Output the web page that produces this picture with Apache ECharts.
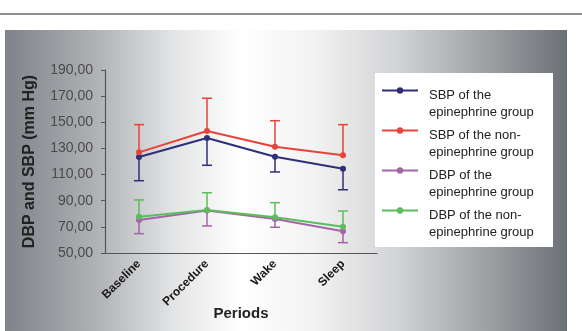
<!DOCTYPE html>
<html><head><meta charset="utf-8">
<script src="https://cdn.jsdelivr.net/npm/echarts@6/dist/echarts.min.js"></script>
<style>html,body{margin:0;padding:0;background:#fff}#c{width:582px;height:331px}</style>
</head><body><div id="c"></div>
<script>
const categories = ['Baseline', 'Procedure', 'Wake', 'Sleep'];
const sbpEpi = [123.5, 138.0, 123.7, 114.5];
const sbpEpiLow = [105.3, 117.1, 112.0, 98.4];
const sbpNon = [127.0, 143.3, 131.3, 124.7];
const sbpNonHigh = [148.2, 168.4, 151.2, 148.2];
const dbpEpi = [75.2, 82.6, 76.0, 66.6];
const dbpEpiLow = [64.8, 70.7, 69.7, 57.9];
const dbpNon = [77.8, 82.9, 77.3, 70.1];
const dbpNonHigh = [90.6, 96.1, 88.5, 82.1];
const yTicks = { min: 50, max: 190, interval: 20 };
const names = ['SBP of the\nepinephrine group', 'SBP of the non-\nepinephrine group', 'DBP of the\nepinephrine group', 'DBP of the non-\nepinephrine group'];
const colors = ['#2f2f78', '#e8433b', '#a465a8', '#5bbd5b'];

function errSeries(name, color, base, ends) {
  return {
    type: 'custom', name: name + ' error', z: 3,
    data: categories.map((c, i) => [i, base[i], ends[i]]),
    renderItem: function (params, api) {
      const p0 = api.coord([api.value(0), api.value(1)]);
      const p1 = api.coord([api.value(0), api.value(2)]);
      const hw = 5;
      return { type: 'group', children: [
        { type: 'line', shape: { x1: p0[0], y1: p0[1], x2: p1[0], y2: p1[1] }, style: { stroke: color, lineWidth: 1.5 } },
        { type: 'line', shape: { x1: p1[0] - hw, y1: p1[1], x2: p1[0] + hw, y2: p1[1] }, style: { stroke: color, lineWidth: 1.5 } }
      ]};
    },
    encode: { x: 0, y: [1, 2] }
  };
}
function lineSeries(name, color, data) {
  return { type: 'line', name: name, data: data, color: color, symbol: 'circle', symbolSize: 6,
    lineStyle: { width: 2, color: color }, itemStyle: { color: color }, z: 4 };
}

const chart = echarts.init(document.getElementById('c'), null, { renderer: 'canvas' });
chart.setOption({
  animation: false,
  graphic: [
    { type: 'line', shape: { x1: 0, y1: 14, x2: 582, y2: 14 }, style: { stroke: '#6a6a6a', lineWidth: 1.5 }, z: -10 },
    { type: 'rect', shape: { x: 5, y: 30, width: 562, height: 301 }, z: -10,
      style: { fill: new echarts.graphic.LinearGradient(0, 0, 1, 0, [
        { offset: 0, color: '#7f8288' }, { offset: 0.17, color: '#b2b4b7' },
        { offset: 0.3, color: '#e3e4e5' }, { offset: 0.42, color: '#ffffff' },
        { offset: 0.55, color: '#f2f2f2' }, { offset: 0.7, color: '#d2d3d5' },
        { offset: 0.85, color: '#a0a2a6' }, { offset: 1, color: '#6d7075' }]) } },
    { type: 'rect', shape: { x: 375, y: 73, width: 178, height: 174 }, z: -5, style: { fill: '#ffffff' } }
  ],
  grid: { left: 105, right: 205, top: 70, bottom: 78, outerBoundsMode: 'none' },
  legend: {
    orient: 'vertical', left: 381, top: 67, padding: 0, itemGap: -12,
    itemWidth: 36, itemHeight: 8,
    data: names,
    formatter: function (name) {
      return '{s| }\n' + name.split('\n').map(t => '{a|' + t + '}').join('\n');
    },
    textStyle: { fontFamily: 'Liberation Sans', fontSize: 13, color: '#222',
      rich: {
        s: { fontSize: 13, lineHeight: 27, fontFamily: 'Liberation Sans' },
        a: { fontSize: 13, lineHeight: 17, color: '#222', fontFamily: 'Liberation Sans', padding: [0, 0, 0, 6] }
      } }
  },
  xAxis: {
    type: 'category', data: categories, boundaryGap: true,
    axisLine: { lineStyle: { color: '#555', width: 1.2 } },
    axisTick: { show: false },
    axisLabel: { rotate: 45, margin: 9, color: '#1a1a1a', fontWeight: 'bold', fontSize: 12, fontFamily: 'Liberation Sans' },
    name: 'Periods', nameLocation: 'middle', nameGap: 53, nameMoveOverlap: false,
    nameTextStyle: { fontWeight: 'bold', fontSize: 15, color: '#222', fontFamily: 'Liberation Sans' }
  },
  yAxis: {
    type: 'value', min: yTicks.min, max: yTicks.max, interval: yTicks.interval,
    axisLine: { show: true, lineStyle: { color: '#555', width: 1.2 } },
    axisTick: { show: true, length: 4, lineStyle: { color: '#555' } },
    splitLine: { show: false },
    axisLabel: { margin: 12, color: '#4a4a4a', fontSize: 14, fontFamily: 'Liberation Sans',
      formatter: v => v.toFixed(2).replace('.', ',') },
    name: 'DBP and SBP (mm Hg)', nameLocation: 'middle', nameGap: 67, nameMoveOverlap: false,
    nameTextStyle: { fontWeight: 'bold', fontSize: 16, color: '#222', fontFamily: 'Liberation Sans' }
  },
  series: [
    errSeries(names[0], colors[0], sbpEpi, sbpEpiLow),
    errSeries(names[1], colors[1], sbpNon, sbpNonHigh),
    errSeries(names[2], colors[2], dbpEpi, dbpEpiLow),
    errSeries(names[3], colors[3], dbpNon, dbpNonHigh),
    lineSeries(names[0], colors[0], sbpEpi),
    lineSeries(names[1], colors[1], sbpNon),
    lineSeries(names[2], colors[2], dbpEpi),
    lineSeries(names[3], colors[3], dbpNon)
  ]
});
</script></body></html>
